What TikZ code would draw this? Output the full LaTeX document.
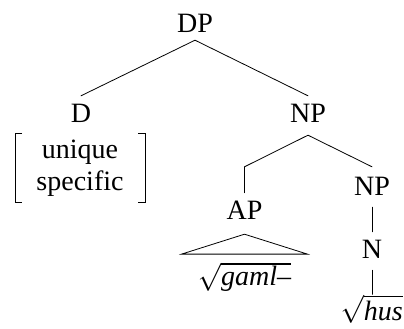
\documentclass[tikz,border=0pt]{standalone}
\usepackage{fix-cm}
\usepackage{fontspec}
\setmainfont{Liberation Serif}
\newfontfamily\tms{Liberation Serif}
\begin{document}
\begin{tikzpicture}[x=1pt,y=-1pt,
  lab/.style={inner sep=0pt,anchor=base,text height=19pt,text depth=0pt,font=\tms\fontsize{28}{32}\selectfont},
  txt/.style={inner sep=0pt,anchor=base,font=\tms\fontsize{28}{32}\selectfont},
  edge/.style={line width=0.8pt,line cap=round},
  brk/.style={line width=0.9pt}]
\useasboundingbox (0,0) rectangle (404,329);
\node[lab] (DP) at (195,33) {DP};
\node[lab] (D) at (81,122) {D};
\node[lab] (NP) at (308,122) {NP};
\node[txt] (uniq) at (80,158) {unique};
\node[txt] (spec) at (80,190) {specific};
\node[lab] (NP2) at (372,195) {NP};
\node[lab] (AP) at (244.5,219) {AP};
\node[lab] (N) at (372,258) {N};
\node[txt] (gaml) at (244.5,285) {$\sqrt{\mbox{\tms\itshape gaml–}}$};
\node[txt,anchor=base east] (hus) at (403,320) {$\sqrt{\mbox{\tms\itshape hus}}$};
% brackets
\draw[brk] ([xshift=-58pt,yshift=25pt]uniq.base) -- ([xshift=-65pt,yshift=25pt]uniq.base) -- ([xshift=-65pt,yshift=-44pt]uniq.base) -- ([xshift=-58pt,yshift=-44pt]uniq.base);
\draw[brk] ([xshift=58pt,yshift=25pt]uniq.base) -- ([xshift=65pt,yshift=25pt]uniq.base) -- ([xshift=65pt,yshift=-44pt]uniq.base) -- ([xshift=58pt,yshift=-44pt]uniq.base);
% edges
\draw[edge] ([yshift=7pt]D.north) -- ([yshift=-7pt]DP.south) -- ([yshift=7pt]NP.north);
\draw[edge] ([yshift=9pt]NP2.north) -- ([yshift=-13pt]NP.south) -- ([yshift=9pt]NP2.north -| AP.north) -- ([yshift=7pt]AP.north);
\draw[edge] ([yshift=-12pt]NP2.south) -- ([yshift=7pt]N.north);
\draw[edge] ([yshift=-12pt]N.south) -- (N.south |- hus.north);
\draw[edge,line join=miter] ([yshift=-15pt]AP.south) -- ([xshift=-63pt,yshift=8pt]gaml.north) -- ([xshift=63pt,yshift=8pt]gaml.north) -- cycle;
\end{tikzpicture}
\end{document}
